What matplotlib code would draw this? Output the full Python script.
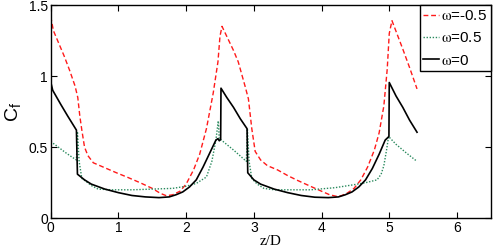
import matplotlib
matplotlib.use("Agg")
import matplotlib.pyplot as plt

plt.rcParams["font.family"] = ["Liberation Sans", "DejaVu Sans"]
plt.rcParams["mathtext.fontset"] = "stix"

# omega = -0.5 (red dashed)
z_neg = [0.00, 0.04, 0.12, 0.20, 0.28, 0.36, 0.40, 0.43, 0.46, 0.50, 0.55, 0.63,
         0.80, 0.97, 1.15, 1.32, 1.50, 1.62, 1.71, 1.80, 1.91, 2.00, 2.11, 2.20,
         2.30, 2.40, 2.47, 2.50, 2.53, 2.60, 2.70, 2.77, 2.87, 2.92, 2.97, 3.02,
         3.10, 3.20, 3.35, 3.50, 3.65, 3.84, 4.00, 4.12, 4.23, 4.30, 4.38, 4.48,
         4.58, 4.68, 4.78, 4.85, 4.92, 4.97, 5.00, 5.04, 5.12, 5.20, 5.30, 5.41]
cf_neg = [1.42, 1.32, 1.23, 1.14, 1.04, 0.93, 0.85, 0.72, 0.62, 0.50, 0.44, 0.39,
          0.355, 0.32, 0.285, 0.25, 0.21, 0.175, 0.158, 0.165, 0.19, 0.24, 0.34, 0.45,
          0.63, 0.88, 1.10, 1.28, 1.35, 1.28, 1.18, 1.10, 0.93, 0.84, 0.63, 0.47,
          0.41, 0.37, 0.34, 0.30, 0.265, 0.224, 0.19, 0.165, 0.153, 0.16, 0.177, 0.21,
          0.27, 0.36, 0.48, 0.60, 0.79, 1.05, 1.30, 1.39, 1.29, 1.19, 1.06, 0.91]

# omega = 0.5 (green dotted)
z_pos = [0.00, 0.10, 0.21, 0.30, 0.38, 0.395, 0.42, 0.46, 0.52, 0.60, 0.70, 0.90,
         1.20, 1.50, 1.80, 2.00, 2.15, 2.30, 2.38, 2.44, 2.475, 2.49, 2.52, 2.70,
         2.89, 2.905, 2.93, 2.97, 3.05, 3.15, 3.30, 3.60, 3.84, 4.20, 4.48, 4.65,
         4.82, 4.88, 4.92, 4.96, 4.99, 5.10, 5.25, 5.41]
cf_pos = [0.54, 0.505, 0.465, 0.435, 0.41, 0.61, 0.40, 0.28, 0.26, 0.23, 0.205, 0.20,
          0.20, 0.205, 0.21, 0.225, 0.245, 0.29, 0.40, 0.55, 0.685, 0.555, 0.55, 0.48,
          0.40, 0.63, 0.40, 0.28, 0.24, 0.21, 0.20, 0.20, 0.20, 0.215, 0.236, 0.25,
          0.27, 0.31, 0.37, 0.48, 0.575, 0.52, 0.46, 0.40]

# omega = 0 (black solid)
z_zero = [0.00, 0.03, 0.15, 0.25, 0.38, 0.395, 0.50, 0.60, 0.80, 1.00, 1.20, 1.40,
          1.60, 1.75, 1.85, 1.95, 2.05, 2.15, 2.25, 2.35, 2.44, 2.47, 2.49, 2.51,
          2.515, 2.60, 2.70, 2.80, 2.90, 2.91, 3.00, 3.10, 3.30, 3.50, 3.70, 3.90,
          4.10, 4.25, 4.35, 4.45, 4.55, 4.65, 4.75, 4.85, 4.94, 4.995, 5.00, 5.10,
          5.20, 5.30, 5.41]
cf_zero = [0.96, 0.90, 0.80, 0.72, 0.62, 0.31, 0.27, 0.24, 0.205, 0.18, 0.16, 0.15,
           0.145, 0.15, 0.165, 0.185, 0.22, 0.27, 0.36, 0.46, 0.55, 0.56, 0.545, 0.555,
           0.915, 0.85, 0.78, 0.70, 0.63, 0.32, 0.27, 0.24, 0.205, 0.18, 0.16, 0.148,
           0.145, 0.15, 0.165, 0.185, 0.22, 0.27, 0.35, 0.45, 0.55, 0.575, 0.955, 0.86,
           0.78, 0.69, 0.605]

labels = ["$\\mathrm{\\omega}$=-0.5", "$\\mathrm{\\omega}$=0.5", "$\\mathrm{\\omega}$=0"]
x_ticks = [0, 1, 2, 3, 4, 5, 6]
y_ticks = [0, 0.5, 1, 1.5]
y_tick_labels = ["0", "0.5", "1", "1.5"]

fig = plt.figure(figsize=(4.94, 2.52), dpi=100)
ax = fig.add_axes([0.1026, 0.134, 0.891, 0.846])

ax.plot(z_neg, cf_neg, color="#ff1a1a", linestyle=(0, (3.5, 2)), linewidth=1.0, label=labels[0])
ax.plot(z_pos, cf_pos, color="#2a8a5e", linestyle=(0, (1, 1.2)), linewidth=1.0, label=labels[1])
ax.plot(z_zero, cf_zero, color="black", linestyle="-", linewidth=1.2, label=labels[2])

ax.set_xlim(0, 6.5)
ax.set_ylim(0, 1.5)
ax.set_xticks(x_ticks)
ax.set_yticks(y_ticks)
ax.set_yticklabels(y_tick_labels)
ax.tick_params(direction="in", length=4, width=0.8, top=True, right=True,
               labelsize=10, pad=2)
for s in ax.spines.values():
    s.set_linewidth(1.0)

ax.set_xlabel("z/D", family="Liberation Serif", fontsize=11, labelpad=0)
ax.set_ylabel("$\\mathregular{C_f}$", fontsize=14, labelpad=4)

leg = ax.legend(loc="upper right", fontsize=11, handlelength=1.0, handletextpad=0.15,
                borderpad=0.25, labelspacing=0.55, borderaxespad=0.0, fancybox=False,
                framealpha=1)
leg.get_frame().set_edgecolor("black")
leg.get_frame().set_linewidth(1.0)

fig.savefig("out.png", dpi=100)
